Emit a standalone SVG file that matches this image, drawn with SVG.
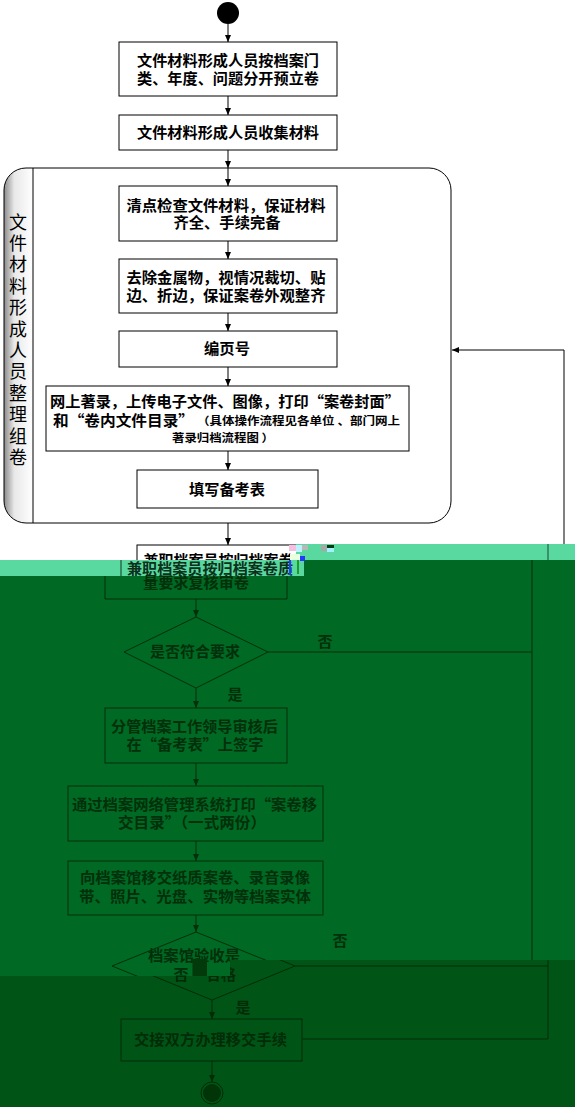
<svg xmlns="http://www.w3.org/2000/svg" width="575" height="1107" viewBox="0 0 575 1107">
<style>
.t{font-family:"Noto Sans CJK SC","Noto Sans CJK JP",sans-serif;font-weight:bold;font-size:15px;text-anchor:middle;fill:#000}
.s{font-size:11px}
.lane{font-family:"Noto Sans CJK SC",sans-serif;font-size:18px;text-anchor:middle;fill:#000}
.m{fill:#02300b}
.b{fill:#012c07}
.bx{fill:#fff;stroke:#000;stroke-width:1}
.ln{fill:none;stroke:#000;stroke-width:1}
.lm{fill:none;stroke:#02300b;stroke-width:1}
.lb{fill:none;stroke:#012c07;stroke-width:1}
</style>
<defs>
<marker id="ak" markerUnits="userSpaceOnUse" markerWidth="7" markerHeight="6" refX="7" refY="3" orient="auto"><path d="M0,0 L7,3 L0,6 z" fill="#000"/></marker>
<marker id="am" markerUnits="userSpaceOnUse" markerWidth="7" markerHeight="6" refX="7" refY="3" orient="auto"><path d="M0,0 L7,3 L0,6 z" fill="#02300b"/></marker>
<marker id="ab" markerUnits="userSpaceOnUse" markerWidth="7" markerHeight="6" refX="7" refY="3" orient="auto"><path d="M0,0 L7,3 L0,6 z" fill="#012c07"/></marker>
<linearGradient id="lg" gradientUnits="userSpaceOnUse" x1="4" y1="0" x2="33" y2="0"><stop offset="0" stop-color="#8a8a8a"/><stop offset="0.35" stop-color="#e8e8e8"/><stop offset="1" stop-color="#ffffff"/></linearGradient>
<clipPath id="cm"><polygon points="0,576 304,576 304,560 575,560 575,960 230,960 230,976 0,976"/></clipPath>
<clipPath id="cb"><polygon points="0,976 230,976 230,960 575,960 575,1107 0,1107"/></clipPath>
<clipPath id="c1"><rect x="0" y="544" width="296" height="16"/></clipPath>
<clipPath id="c2"><rect x="0" y="560" width="304" height="16"/></clipPath>
<clipPath id="cl"><rect x="4" y="168" width="29" height="355"/></clipPath>
</defs>

<!-- backgrounds -->
<rect x="0" y="0" width="575" height="1107" fill="#fff"/>
<rect x="296" y="544" width="279" height="16" fill="#59d8a0"/>
<rect x="0" y="560" width="304" height="16" fill="#59d8a0"/>
<polygon points="0,576 304,576 304,560 575,560 575,960 230,960 230,976 0,976" fill="#006923"/>
<polygon points="0,976 230,976 230,960 575,960 575,1107 0,1107" fill="#005516"/>

<!-- lane container -->
<g id="lane">
<path d="M26,168 H429 A22,22 0 0 1 451,190 V501 A22,22 0 0 1 429,523 H26 A22,22 0 0 1 4,501 V190 A22,22 0 0 1 26,168 Z" fill="#fff"/>
<path d="M26,168 H429 A22,22 0 0 1 451,190 V501 A22,22 0 0 1 429,523 H26 A22,22 0 0 1 4,501 V190 A22,22 0 0 1 26,168 Z" fill="url(#lg)" clip-path="url(#cl)"/>
<path d="M26,168 H429 A22,22 0 0 1 451,190 V501 A22,22 0 0 1 429,523 H26 A22,22 0 0 1 4,501 V190 A22,22 0 0 1 26,168 Z" class="ln"/>
<line x1="33" y1="168" x2="33" y2="523" class="ln"/>
<text class="lane" x="18" y="228.5">文</text>
<text class="lane" x="18" y="249.9">件</text>
<text class="lane" x="18" y="271.3">材</text>
<text class="lane" x="18" y="292.7">料</text>
<text class="lane" x="18" y="314.1">形</text>
<text class="lane" x="18" y="335.5">成</text>
<text class="lane" x="18" y="356.9">人</text>
<text class="lane" x="18" y="378.3">员</text>
<text class="lane" x="18" y="399.7">整</text>
<text class="lane" x="18" y="421.1">理</text>
<text class="lane" x="18" y="442.5">组</text>
<text class="lane" x="18" y="463.9">卷</text>
</g>

<!-- connectors -->
<g id="connectors">
<line x1="228" y1="24" x2="228" y2="42" class="ln" marker-end="url(#ak)"/>
<line x1="228" y1="96" x2="228" y2="115" class="ln" marker-end="url(#ak)"/>
<line x1="228" y1="150" x2="228" y2="168" class="ln" marker-end="url(#ak)"/>
<line x1="228" y1="168" x2="228" y2="186" class="ln" marker-end="url(#ak)"/>
<line x1="228" y1="241" x2="228" y2="259" class="ln" marker-end="url(#ak)"/>
<line x1="228" y1="313" x2="228" y2="331" class="ln" marker-end="url(#ak)"/>
<line x1="228" y1="367" x2="228" y2="386" class="ln" marker-end="url(#ak)"/>
<line x1="228" y1="451" x2="228" y2="470" class="ln" marker-end="url(#ak)"/>
<line x1="228" y1="523" x2="228" y2="545" class="ln" marker-end="url(#ak)"/>
<polyline points="564,544 564,350 452,350" class="ln" marker-end="url(#ak)"/>
<line x1="548" y1="544" x2="548" y2="560" stroke="#1d4a33" stroke-width="1"/>
<g clip-path="url(#cm)">
<line x1="532" y1="560" x2="532" y2="960" class="lm"/>
<line x1="268" y1="652" x2="532" y2="652" class="lm"/>
<line x1="196" y1="599" x2="196" y2="617" class="lm" marker-end="url(#am)"/>
<line x1="196" y1="688" x2="196" y2="708" class="lm" marker-end="url(#am)"/>
<line x1="196" y1="763" x2="196" y2="786" class="lm" marker-end="url(#am)"/>
<line x1="196" y1="841" x2="196" y2="861" class="lm" marker-end="url(#am)"/>
<line x1="196" y1="915" x2="196" y2="932" class="lm" marker-end="url(#am)"/>
</g>
<g clip-path="url(#cb)">
<line x1="295" y1="966" x2="548" y2="966" class="lb"/>
<polyline points="548,960 548,1039 302,1039" class="lb"/>
<line x1="212" y1="1000" x2="212" y2="1019" class="lb" marker-end="url(#ab)"/>
<line x1="212" y1="1061" x2="212" y2="1082" class="lb" marker-end="url(#ab)"/>
</g>
</g>

<!-- nodes -->
<g id="start"><circle cx="228" cy="13" r="11" fill="#000"/></g>

<g id="n1">
<rect x="119" y="42" width="218" height="54" class="bx"/>
<text class="t" x="228" y="66" textLength="182" lengthAdjust="spacingAndGlyphs">文件材料形成人员按档案门</text>
<text class="t" x="228" y="84" textLength="182" lengthAdjust="spacingAndGlyphs">类、年度、问题分开预立卷</text>
</g>
<g id="n2">
<rect x="119" y="115" width="218" height="35" class="bx"/>
<text class="t" x="228" y="138" textLength="182" lengthAdjust="spacingAndGlyphs">文件材料形成人员收集材料</text>
</g>
<g id="n3">
<rect x="119" y="186" width="218" height="55" class="bx"/>
<text class="t" x="226" y="210.5" textLength="199" lengthAdjust="spacingAndGlyphs">清点检查文件材料，保证材料</text>
<text class="t" x="227" y="227.5" textLength="107" lengthAdjust="spacingAndGlyphs">齐全、手续完备</text>
</g>
<g id="n4">
<rect x="119" y="259" width="218" height="54" class="bx"/>
<text class="t" x="226" y="283" textLength="199" lengthAdjust="spacingAndGlyphs">去除金属物，视情况裁切、贴</text>
<text class="t" x="226" y="301" textLength="199" lengthAdjust="spacingAndGlyphs">边、折边，保证案卷外观整齐</text>
</g>
<g id="n5">
<rect x="119" y="331" width="218" height="36" class="bx"/>
<text class="t" x="227" y="353.5" textLength="46" lengthAdjust="spacingAndGlyphs">编页号</text>
</g>
<g id="n6">
<rect x="46" y="386" width="363" height="65" class="bx"/>
<text class="t" x="225" y="406.5" textLength="350" lengthAdjust="spacingAndGlyphs">网上著录，上传电子文件、图像，打印“案卷封面”</text>
<text class="t" x="53" y="425.5" style="text-anchor:start" textLength="141" lengthAdjust="spacingAndGlyphs">和“卷内文件目录”</text>
<text class="t s" x="197" y="424.5" style="text-anchor:start" textLength="203" lengthAdjust="spacingAndGlyphs">（具体操作流程见各单位 、部门网上</text>
<text class="t s" x="223" y="441.5" textLength="102" lengthAdjust="spacingAndGlyphs">著录归档流程图 ）</text>
</g>
<g id="n7">
<rect x="137" y="470" width="181" height="38" class="bx"/>
<text class="t" x="227" y="494.5" textLength="76" lengthAdjust="spacingAndGlyphs">填写备考表</text>
</g>

<g id="n8">
<g clip-path="url(#c1)">
<rect x="137" y="545" width="182" height="20" class="bx"/>
<text class="t" x="226" y="566" textLength="165" lengthAdjust="spacingAndGlyphs">兼职档案员按归档案卷质</text>
</g>
<g clip-path="url(#c2)">
<line x1="121" y1="560" x2="121" y2="576" stroke="#0c3a1e"/>
<text class="t" x="210" y="573.5" fill="#0c301a" style="fill:#0c301a" textLength="166" lengthAdjust="spacingAndGlyphs">兼职档案员按归档案卷质</text>
</g>
<rect x="289" y="545" width="7" height="6" fill="#f4c0e0"/>
<rect x="296" y="545" width="6" height="7" fill="#c0f0ff"/>
<rect x="302" y="545" width="6" height="5" fill="#b8b8b8"/>
<rect x="321" y="545" width="6" height="6" fill="#a8a8a8"/>
<rect x="327" y="545" width="7" height="3" fill="#053a10"/>
<rect x="327" y="548" width="7" height="4" fill="#a0f0ff"/>
<rect x="290" y="554" width="10" height="6" fill="#e8ffe0"/>
<rect x="289" y="560" width="2" height="15" fill="#2438ff"/>
<rect x="297" y="560" width="2" height="14" fill="#1c9a2a"/>
<rect x="300" y="556" width="5" height="5" fill="#2438ff"/>
<polyline points="105,576 105,599 287,599 287,576" class="lm"/>
<text class="t m" x="196" y="588" textLength="106" lengthAdjust="spacingAndGlyphs">量要求复核审卷</text>
</g>

<g id="d1">
<polygon points="196,617 268,652 196,688 124,652" class="lm"/>
<text class="t m" x="195" y="657" textLength="90" lengthAdjust="spacingAndGlyphs">是否符合要求</text>
<text class="t m" x="325" y="646.5">否</text>
<text class="t m" x="235" y="699.5">是</text>
</g>
<g id="n9">
<rect x="105" y="708" width="182" height="55" class="lm"/>
<text class="t m" x="194.5" y="731.5" textLength="167" lengthAdjust="spacingAndGlyphs">分管档案工作领导审核后</text>
<text class="t m" x="195" y="749.5" textLength="137" lengthAdjust="spacingAndGlyphs">在“备考表”上签字</text>
</g>
<g id="n10">
<rect x="68" y="786" width="255" height="55" class="lm"/>
<text class="t m" x="194.5" y="809.5" textLength="245" lengthAdjust="spacingAndGlyphs">通过档案网络管理系统打印“案卷移</text>
<text class="t m" x="192" y="827.5" textLength="148" lengthAdjust="spacingAndGlyphs">交目录”（一式两份）</text>
</g>
<g id="n11">
<rect x="68" y="861" width="255" height="54" class="lm"/>
<text class="t m" x="195" y="883" textLength="230" lengthAdjust="spacingAndGlyphs">向档案馆移交纸质案卷、录音录像</text>
<text class="t m" x="195" y="901.5" textLength="232" lengthAdjust="spacingAndGlyphs">带、照片、光盘、实物等档案实体</text>
</g>
<g id="d2">
<g clip-path="url(#cm)">
<polygon points="196,932 280,966 196,1000 112,966" class="lm"/>
<text class="t m" x="194" y="960.5" textLength="92" lengthAdjust="spacingAndGlyphs">档案馆验收是</text>
<text class="t m" x="181" y="979.5">否</text>
</g>
<g clip-path="url(#cb)">
<polygon points="212,932 295,966 212,1000 129,966" class="lb"/>
<text class="t b" x="181" y="979.5">否</text>
<text class="t b" x="221" y="979.5">合格</text>
</g>
<rect x="192.5" y="959" width="14.5" height="17" fill="#023a0c"/>
<text class="t m" x="340" y="945.5">否</text>
<text class="t b" x="243" y="1012.5">是</text>
</g>
<g id="n12">
<rect x="121" y="1019" width="181" height="42" class="lb"/>
<text class="t b" x="210.5" y="1044.5" textLength="153" lengthAdjust="spacingAndGlyphs">交接双方办理移交手续</text>
</g>
<g id="end">
<circle cx="212" cy="1093" r="11" fill="none" stroke="#012c07" stroke-width="1"/>
<circle cx="212" cy="1093" r="9" fill="#013508"/>
</g>
</svg>
